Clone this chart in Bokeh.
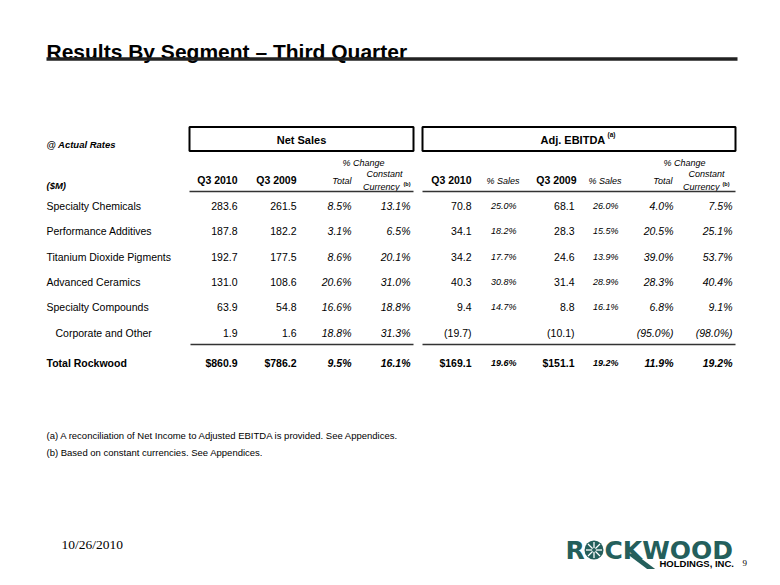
from bokeh.plotting import figure
from bokeh.models import Range1d, ColumnDataSource
from bokeh.core.properties import value
from bokeh.embed import file_html
from bokeh.resources import INLINE

# ---------------- data ----------------
title_text = "Results By Segment \u2013 Third Quarter"
segments = ["Specialty Chemicals", "Performance Additives", "Titanium Dioxide Pigments",
            "Advanced Ceramics", "Specialty Compounds", "Corporate and Other", "Total Rockwood"]
ns_q3_2010 = [283.6, 187.8, 192.7, 131.0, 63.9, 1.9, 860.9]
ns_q3_2009 = [261.5, 182.2, 177.5, 108.6, 54.8, 1.6, 786.2]
ns_chg_total = [8.5, 3.1, 8.6, 20.6, 16.6, 18.8, 9.5]
ns_chg_cc = [13.1, 6.5, 20.1, 31.0, 18.8, 31.3, 16.1]
eb_q3_2010 = [70.8, 34.1, 34.2, 40.3, 9.4, -19.7, 169.1]
eb_pct_2010 = [25.0, 18.2, 17.7, 30.8, 14.7, None, 19.6]
eb_q3_2009 = [68.1, 28.3, 24.6, 31.4, 8.8, -10.1, 151.1]
eb_pct_2009 = [26.0, 15.5, 13.9, 28.9, 16.1, None, 19.2]
eb_chg_total = [4.0, 20.5, 39.0, 28.3, 6.8, -95.0, 11.9]
eb_chg_cc = [7.5, 25.1, 53.7, 40.4, 9.1, -98.0, 19.2]
footnotes = ["(a) A reconciliation of Net Income to Adjusted EBITDA is provided. See Appendices.",
             "(b) Based on constant currencies.  See Appendices."]
date_text = "10/26/2010"
page_no = "9"

# ---------------- layout ----------------
W, H = 764, 569
p = figure(width=W, height=H, x_range=Range1d(0, W), y_range=Range1d(H, 0),
           output_backend="svg", toolbar_location=None, min_border=0,
           x_axis_location=None, y_axis_location=None)
p.grid.visible = False
p.outline_line_color = None
p.background_fill_color = "white"
p.border_fill_color = "white"

SANS = "Liberation Sans"


def txt(x, y, s, size, style="normal", align="left", font=SANS, color="black", baseline="middle"):
    p.text(x=[x], y=[y], text=[s], text_font=value(font), text_font_size=f"{size}px",
           text_font_style=style, text_align=align, text_baseline=baseline, text_color=color)


def fmt_num(v, dollar=False):
    if v is None:
        return ""
    if v < 0:
        return f"({abs(v):.1f})"
    return ("$" if dollar else "") + f"{v:.1f}"


def fmt_pct(v):
    if v is None:
        return ""
    if v < 0:
        return f"({abs(v):.1f}%)"
    return f"{v:.1f}%"


# title
txt(46, 51, title_text, 21, "bold", baseline="alphabetic")
p.line(x=[46, 737], y=[58.5, 58.5], line_color="#222222", line_width=3.5)

# header boxes
p.quad(left=[189], right=[413], top=[126.5], bottom=[150.5], fill_color=None,
       line_color="black", line_width=2)
p.quad(left=[422], right=[735], top=[126.5], bottom=[150.5], fill_color=None,
       line_color="black", line_width=2)
txt(301, 139, "Net Sales", 11, "bold", "center")
txt(540, 139, "Adj. EBITDA", 11, "bold", "left")
txt(607, 134, "(a)", 6.5, "bold", "left")
txt(46, 144, "@ Actual Rates", 9.5, "bold italic")

# column headers
txt(363, 162, "% Change", 9, "italic", "center")
txt(684, 162, "% Change", 9, "italic", "center")
txt(46, 185, "($M)", 9.5, "bold italic")
ns_right = [237, 296, 351, 410]
eb_right = [471, 516, 574, 618, 673, 732]
txt(ns_right[0], 179, "Q3 2010", 10.5, "bold", "right")
txt(ns_right[1], 179, "Q3 2009", 10.5, "bold", "right")
txt(ns_right[2], 180, "Total", 9, "italic", "right")
txt(402, 173, "Constant", 9, "italic", "right")
txt(399, 186, "Currency", 9, "italic", "right")
txt(403, 183, "(b)", 5.5, "bold", "left")
txt(eb_right[0], 179, "Q3 2010", 10.5, "bold", "right")
txt(eb_right[1] + 3, 180, "% Sales", 9, "italic", "right")
txt(eb_right[2] + 2, 179, "Q3 2009", 10.5, "bold", "right")
txt(eb_right[3] + 3, 180, "% Sales", 9, "italic", "right")
txt(eb_right[4] - 1, 180, "Total", 9, "italic", "right")
txt(724, 173, "Constant", 9, "italic", "right")
txt(719, 186, "Currency", 9, "italic", "right")
txt(722, 183, "(b)", 5.5, "bold", "left")
p.line(x=[189, 413], y=[191, 191], line_color="#333333", line_width=1.5)
p.line(x=[422, 735], y=[191, 191], line_color="#333333", line_width=1.5)

# table body
row_y = [205, 230.5, 256, 281, 306.5, 332, 362]
row_x = [46, 46, 46, 46, 46, 55, 46]
n = len(segments)
is_total = [i == n - 1 for i in range(n)]
src = ColumnDataSource(dict(
    y=row_y, lx=row_x, label=segments,
    ns1=[fmt_num(v, t) for v, t in zip(ns_q3_2010, is_total)],
    ns2=[fmt_num(v, t) for v, t in zip(ns_q3_2009, is_total)],
    ns3=[fmt_pct(v) for v in ns_chg_total],
    ns4=[fmt_pct(v) for v in ns_chg_cc],
    eb1=[fmt_num(v, t) for v, t in zip(eb_q3_2010, is_total)],
    eb2=[fmt_pct(v) for v in eb_pct_2010],
    eb3=[fmt_num(v, t) for v, t in zip(eb_q3_2009, is_total)],
    eb4=[fmt_pct(v) for v in eb_pct_2009],
    eb5=[fmt_pct(v) for v in eb_chg_total],
    eb6=[fmt_pct(v) for v in eb_chg_cc],
    up=["bold" if t else "normal" for t in is_total],
    it=["bold italic" if t else "italic" for t in is_total],
))


def col(xpos, field, style_field, size=10.5, align="right"):
    p.text(x=xpos, y="y", text=field, source=src, text_font=value(SANS),
           text_font_size=f"{size}px", text_font_style={"field": style_field},
           text_align=align, text_baseline="middle", text_color="black")


col("lx", "label", "up", 10.5, "left")
col(ns_right[0], "ns1", "up")
col(ns_right[1], "ns2", "up")
col(ns_right[2], "ns3", "it")
col(ns_right[3], "ns4", "it")
col(eb_right[0], "eb1", "up")
col(eb_right[1], "eb2", "it", 9)
col(eb_right[2], "eb3", "up")
col(eb_right[3], "eb4", "it", 9)
col(eb_right[4], "eb5", "it")
col(eb_right[5], "eb6", "it")

p.line(x=[190, 413], y=[344, 344], line_color="#333333", line_width=1.5)
p.line(x=[422, 735], y=[344, 344], line_color="#333333", line_width=1.5)

# footnotes
txt(46, 435, footnotes[0], 9.5)
txt(46, 452, footnotes[1], 9.5)

# footer
txt(61, 544, date_text, 13.5, font="Liberation Serif")
txt(742, 562, page_no, 9, font="Liberation Serif")

# logo
TEAL = "#245f5c"
txt(565, 550, "R", 25, "bold", font="DejaVu Sans", color=TEAL)
p.circle(x=[593.5], y=[549.5], radius=9.5, fill_color=TEAL, line_color=None)
p.multi_line(xs=[[585.5, 601.5], [593.5, 593.5], [587.5, 599.5], [587.5, 599.5]],
             ys=[[549.5, 549.5], [541.5, 557.5], [543.5, 555.5], [555.5, 543.5]],
             line_color="white", line_width=1.3)
p.circle(x=[593.5], y=[549.5], radius=2, fill_color=TEAL, line_color=None)
txt(604, 550, "CKWOOD", 25, "bold", font="DejaVu Sans", color=TEAL)
p.patch(x=[626, 634, 658, 650], y=[553, 553, 571, 571], fill_color=TEAL, line_color=None)
txt(659, 563, "HOLDINGS, INC.", 9.5, "bold")

open("out.html", "w").write(file_html(p, INLINE))
